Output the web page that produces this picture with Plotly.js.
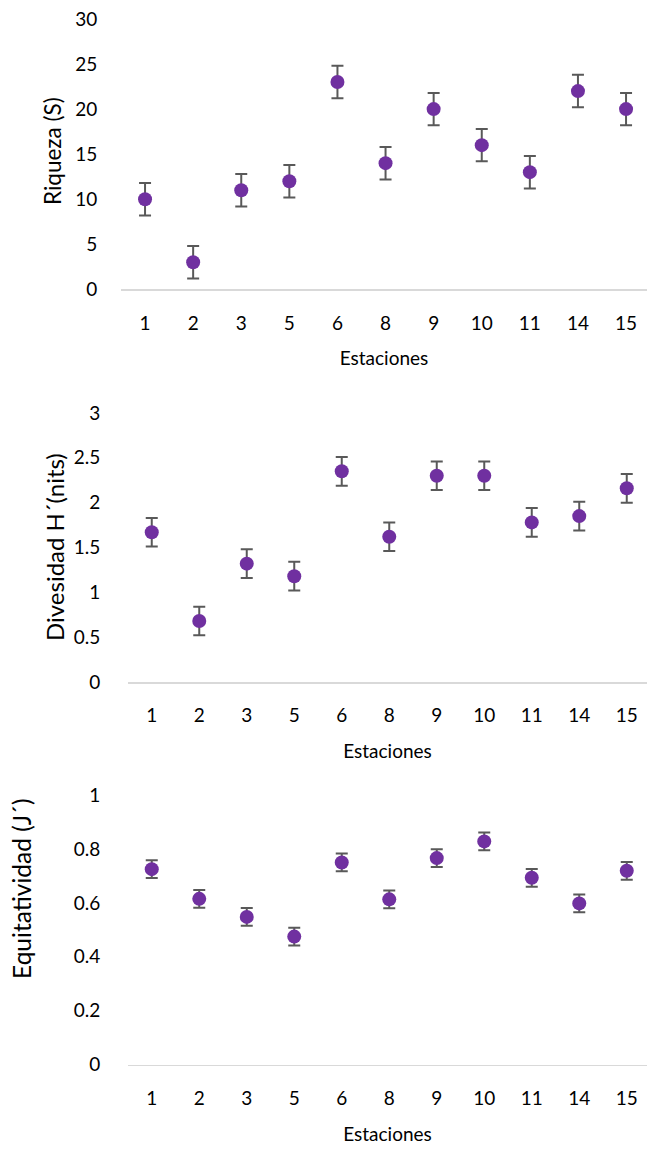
<!DOCTYPE html>
<html>
<head>
<meta charset="utf-8">
<script src="https://cdn.plot.ly/plotly-3.0.1.min.js"></script>
<style>html,body{margin:0;padding:0;background:#fff;}#chart{width:647px;height:1149px;}</style>
</head>
<body>
<div id="chart"></div>
<script>
const estaciones = ['1','2','3','5','6','8','9','10','11','14','15'];
const riqueza = [10, 3, 11, 12, 23, 14, 20, 16, 13, 22, 20];
const riquezaErr = [1.8, 1.8, 1.8, 1.8, 1.8, 1.8, 1.8, 1.8, 1.8, 1.8, 1.8];
const diversidad = [1.67, 0.68, 1.32, 1.18, 2.35, 1.62, 2.30, 2.30, 1.78, 1.85, 2.16];
const diversidadErr = [0.16, 0.16, 0.16, 0.16, 0.16, 0.16, 0.16, 0.16, 0.16, 0.16, 0.16];
const equitatividad = [0.725, 0.615, 0.548, 0.475, 0.750, 0.613, 0.766, 0.828, 0.693, 0.598, 0.719];
const equitatividadErr = [0.033, 0.033, 0.033, 0.033, 0.033, 0.033, 0.033, 0.033, 0.033, 0.033, 0.033];
const yTitles = ['Riqueza (S)', 'Divesidad H´(nits)', 'Equitatividad (J´)'];
const xTitle = 'Estaciones';

const W = 647, H = 1149;
const FONT = 'Lato, "Open Sans", sans-serif';
const purple = '#7030A0';
const errColor = '#595959';

function trace(y, err, xa, ya) {
  return {
    type: 'scatter', mode: 'markers', x: estaciones, y: y,
    xaxis: xa, yaxis: ya,
    marker: {color: purple, size: 14},
    error_y: {type: 'data', array: err, visible: true, color: errColor, thickness: 2, width: 6},
    cliponaxis: false, hoverinfo: 'x+y'
  };
}

const data = [
  trace(riqueza, riquezaErr, 'x', 'y'),
  trace(diversidad, diversidadErr, 'x2', 'y2'),
  trace(equitatividad, equitatividadErr, 'x3', 'y3')
];

function fy(px) { return 1 - px / H; }
function fx(px) { return px / W; }

function xaxis(leftPx, step, anchor, standoff) {
  return {
    type: 'category', anchor: anchor,
    domain: [fx(leftPx), 1],
    range: [-0.5, -0.5 + (W - leftPx) / step],
    showgrid: false, zeroline: false,
    showline: true, linecolor: '#d9d9d9', linewidth: 1.5,
    ticks: 'outside', ticklen: 16, tickcolor: 'rgba(0,0,0,0)',
    tickfont: {family: FONT, size: 19, color: '#000'},
    title: {text: xTitle, font: {family: FONT, size: 19, color: '#000'}, standoff: standoff},
    fixedrange: true
  };
}
function yaxis(bottomPx, topPx, range, dtick, anchor, ticklen) {
  return {
    anchor: anchor,
    domain: [fy(bottomPx), fy(topPx)],
    range: range, dtick: dtick,
    showgrid: false, zeroline: false, showline: false,
    ticks: 'outside', ticklen: ticklen, tickcolor: 'rgba(0,0,0,0)',
    tickfont: {family: FONT, size: 19, color: '#000'},
    title: {text: '', font: {family: FONT, size: 19, color: '#000'}},
    fixedrange: true
  };
}

function yTitle(text, xPx, yPx, size) {
  return {text: text, xref: 'paper', yref: 'paper', x: fx(xPx), y: fy(yPx), textangle: -90,
    showarrow: false, xanchor: 'center', yanchor: 'middle',
    font: {family: FONT, size: size, color: '#000'}};
}

const layout = {
  width: W, height: H,
  margin: {l: 0, r: 0, t: 0, b: 0},
  paper_bgcolor: '#fff', plot_bgcolor: '#fff',
  showlegend: false,
  font: {family: FONT, color: '#000'},
  xaxis: xaxis(121, 48.1, 'y', 19),
  yaxis: yaxis(289.3, 19, [0, 30], 5, 'x', 19),
  xaxis2: xaxis(128, 47.5, 'y2', 19),
  yaxis2: yaxis(682, 413, [0, 3], 0.5, 'x2', 23),
  xaxis3: xaxis(128, 47.5, 'y3', 19),
  yaxis3: yaxis(1064.7, 795, [0, 1], 0.2, 'x3', 23),
  annotations: [
    yTitle(yTitles[0], 53, 151, 22.5),
    yTitle(yTitles[1], 54, 547, 24),
    yTitle(yTitles[2], 21, 889, 24.5)
  ]
};

Plotly.newPlot('chart', data, layout, {displayModeBar: false, staticPlot: true});
</script>
</body>
</html>
